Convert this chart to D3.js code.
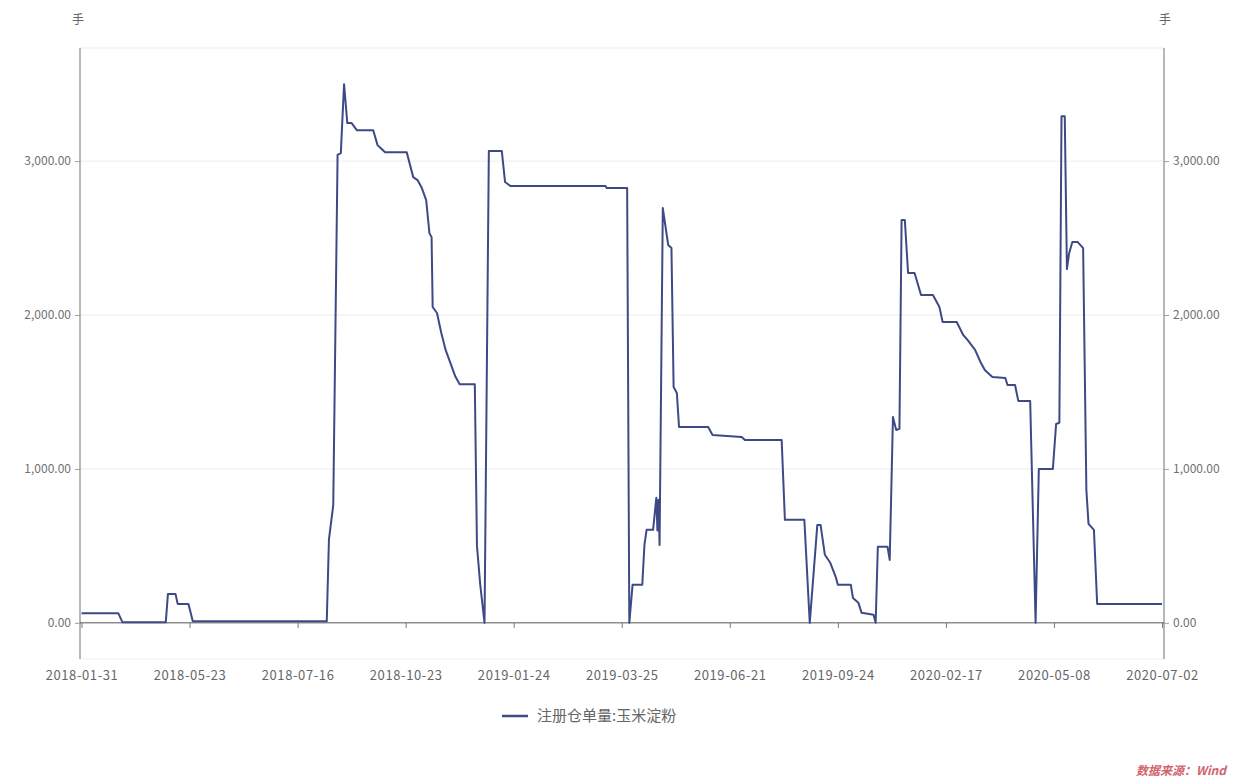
<!DOCTYPE html>
<html>
<head>
<meta charset="utf-8">
<script src="https://cdn.jsdelivr.net/npm/d3@7/dist/d3.min.js"></script>
<style>
body { margin: 0; background: #fff; }
text { font-family: "Noto Sans CJK SC", "Noto Sans", sans-serif; }
</style>
</head>
<body>
<script>
const W = 1237, H = 778

// x axis is by observation number (category axis), labels every 100 obs
const tickObs = [0, 100, 200, 300, 400, 500, 600, 700, 800, 900, 1000]
const tickLabels = ['2018-01-31', '2018-05-23', '2018-07-16', '2018-10-23', '2019-01-24',
    '2019-03-25', '2019-06-21', '2019-09-24', '2020-02-17', '2020-05-08', '2020-07-02']
const yTicks = [0, 1000, 2000, 3000]
const seriesName = '注册仓单量:玉米淀粉'
const unit = '手'

// turning points of the line: observation number and value (手)
const obs = [0, 34, 38, 78, 80, 87, 89, 99, 103, 227,
    229, 233, 237, 240, 243, 246, 250, 255, 270, 274,
    277, 281, 301, 307, 311, 315, 319, 322, 324, 325,
    329, 333, 337, 346, 350, 364, 366, 369, 373, 377,
    389, 392, 397, 485, 486, 505, 507, 510, 519, 521,
    523, 529, 532, 533, 534, 535, 538, 543, 546, 548,
    551, 553, 580, 584, 611, 614, 648, 651, 669, 674,
    681, 684, 688, 693, 698, 700, 712, 714, 719, 722,
    733, 735, 737, 746, 748, 751, 754, 757, 759, 762,
    765, 771, 777, 788, 794, 797, 810, 816, 820, 827,
    832, 836, 843, 855, 857, 864, 867, 878, 883, 886,
    899, 902, 905, 907, 910, 912, 914, 917, 922, 927,
    930, 932, 937, 940, 1000]
const vals = [63, 63, 3, 3, 188, 188, 123, 123, 10, 10,
    540, 766, 3040, 3052, 3500, 3247, 3247, 3200, 3200, 3104,
    3084, 3058, 3058, 2896, 2877, 2825, 2747, 2532, 2506, 2052,
    2013, 1883, 1773, 1600, 1550, 1550, 500, 250, 0, 3065,
    3065, 2864, 2838, 2838, 2825, 2825, 0, 247, 247, 506,
    604, 604, 812, 600, 800, 506, 2695, 2455, 2435, 1532,
    1494, 1273, 1273, 1221, 1208, 1188, 1188, 669, 669, 0,
    636, 636, 442, 390, 299, 247, 247, 162, 130, 65,
    52, 0, 494, 494, 409, 1338, 1253, 1260, 2617, 2617,
    2273, 2273, 2130, 2130, 2052, 1955, 1955, 1870, 1838, 1773,
    1695, 1643, 1597, 1591, 1545, 1545, 1442, 1442, 0, 1000,
    1000, 1292, 1300, 3292, 3292, 2299, 2400, 2474, 2474, 2435,
    864, 643, 604, 123, 123]

const data = obs.map((o, i) => ({ o: o, v: vals[i] }))

const plotL = 80, plotR = 1164, plotT = 48, plotB = 659

const svg = d3.select('body').append('svg')
    .attr('width', W).attr('height', H)

const x = d3.scaleLinear().domain([0, 1000]).range([81.5, 1162])
const y = d3.scaleLinear().domain([-235, 3735]).range([plotB, plotT])

const fmt = d3.format(',.2f')

// grid + frame
svg.append('g')
    .selectAll('line').data(yTicks.filter(d => d > 0)).join('line')
    .attr('x1', plotL).attr('x2', plotR)
    .attr('y1', d => y(d)).attr('y2', d => y(d))
    .attr('stroke', '#ececec').attr('stroke-width', 1)
svg.append('line')
    .attr('x1', plotL).attr('x2', plotR).attr('y1', plotT).attr('y2', plotT)
    .attr('stroke', '#ececec')
svg.append('line')
    .attr('x1', plotL).attr('x2', plotR).attr('y1', plotB).attr('y2', plotB)
    .attr('stroke', '#f0f0f0')

// left / right axes
const yl = svg.append('g').attr('transform', `translate(${plotL},0)`)
    .call(d3.axisLeft(y).tickValues(yTicks).tickFormat(fmt).tickSize(5).tickPadding(4))
const yr = svg.append('g').attr('transform', `translate(${plotR},0)`)
    .call(d3.axisRight(y).tickValues(yTicks).tickFormat(fmt).tickSize(5).tickPadding(4))
;[yl, yr].forEach(g => {
    g.select('.domain').attr('d', `M0,${plotT}V${plotB}`).attr('stroke', '#a0a0a0').attr('stroke-width', 1.5)
    g.selectAll('.tick line').attr('stroke', '#a0a0a0')
    g.selectAll('.tick text').attr('fill', '#707070').attr('font-size', 12)
})

// x axis along zero
const xa = svg.append('g').attr('transform', `translate(0,${y(0)})`)
    .call(d3.axisBottom(x).tickValues(tickObs).tickFormat((d, i) => tickLabels[i]).tickSize(5).tickPadding(43))
xa.select('.domain').attr('d', `M${plotL},0H${plotR}`).attr('stroke', '#555').attr('stroke-width', 1)
xa.selectAll('.tick line').attr('stroke', '#777')
xa.selectAll('.tick text').attr('fill', '#666').attr('font-size', 13).attr('letter-spacing', 0.6)

// unit labels
svg.append('text').attr('x', 78).attr('y', 24).attr('text-anchor', 'middle')
    .attr('font-size', 12).attr('fill', '#666').text(unit)
svg.append('text').attr('x', 1165).attr('y', 24).attr('text-anchor', 'middle')
    .attr('font-size', 12).attr('fill', '#666').text(unit)

// series
const line = d3.line().x(d => x(d.o)).y(d => y(d.v))
svg.append('path').datum(data)
    .attr('d', line)
    .attr('fill', 'none')
    .attr('stroke', '#3e4a85')
    .attr('stroke-width', 2)
    .attr('stroke-linejoin', 'round')

// legend
const lg = svg.append('g').attr('transform', 'translate(502,716)')
lg.append('line').attr('x1', 0).attr('x2', 26).attr('y1', 0).attr('y2', 0)
    .attr('stroke', '#3e4a85').attr('stroke-width', 2.5)
lg.append('text').attr('x', 35).attr('y', 5).attr('font-size', 15)
    .attr('fill', '#666').text(seriesName)

// source
svg.append('text').attr('x', 1226).attr('y', 775).attr('text-anchor', 'end')
    .attr('font-size', 12).attr('font-style', 'italic').attr('font-weight', 'bold')
    .attr('fill', '#d2646e')
    .text('数据来源：Wind')
</script>
</body>
</html>
